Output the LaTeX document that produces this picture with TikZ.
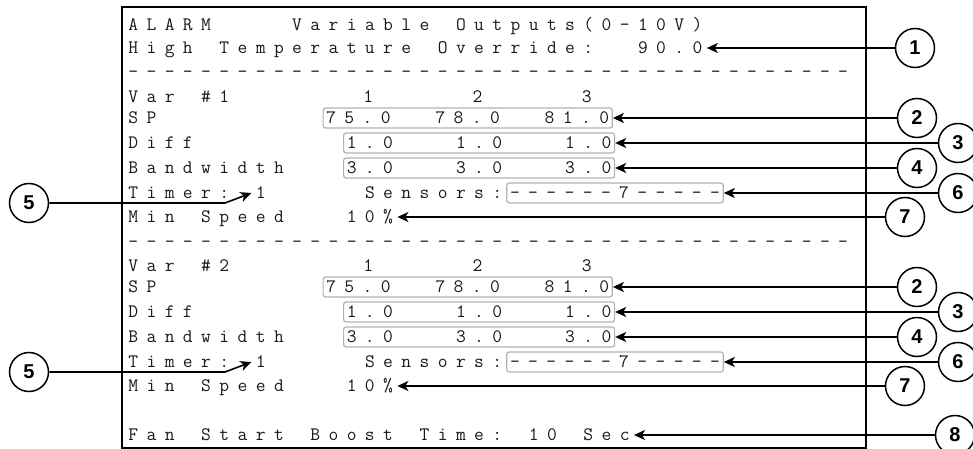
\documentclass[tikz,border=0pt]{standalone}
\usepackage{fontspec}
\usepackage{tikz}
\usetikzlibrary{positioning}
\usetikzlibrary{arrows.meta}
\newfontfamily\numfont{Liberation Sans}
\def\lcd#1{\lcdrun#1\relax}
\def\lcdrun#1{\ifx#1\relax\else\makebox[18.2pt][c]{#1}\expandafter\lcdrun\fi}
\tikzset{
lcdline/.style={anchor=west,inner sep=0pt,text height=11.6pt,text depth=0pt,text=black!90,font=\ttfamily\fontsize{19}{19}\selectfont},
valbox/.style={lcdline,draw=black!30,line width=1.2pt,rounded corners=2.5pt,inner xsep=-1pt,inner ysep=4.2pt},
callout/.style={circle,draw,line width=1.5pt,fill=white,minimum size=39pt,inner sep=0pt,font=\numfont\bfseries\fontsize{20}{20}\selectfont},
pointer/.style={line width=1.6pt,-{Stealth[length=11pt,width=10pt,inset=3pt]}}
}
\begin{document}
\begin{tikzpicture}[x=1pt,y=-1pt]
\useasboundingbox (0,0) rectangle (973,449);
\draw[line width=1.8pt] (122,7) rectangle (866,448);
\node[lcdline] (alarm) at (124,25) {\lcd{ALARM~~~~Variable~Outputs(0-10V)}};
\node[lcdline] (hto) at (124,48) {\lcd{High~Temperature~Override:}};
\node[lcdline] (hval) at (633.6,48) {\lcd{90.0}};
\foreach \y in {72,242} {
\node[lcdline] (dash\y) at (124,\y) {\lcd{----------------------------------------}};}
\node[lcdline] (fan) at (124,435) {\lcd{Fan~Start~Boost~Time:~10~Sec}};
\node[callout] (num1) at (915,48) {1};
\node[callout] (num8) at (955,435) {8};
\draw[pointer] (num1) -- (hval);
\draw[pointer] (num8) -- (fan);
\foreach \g/\dy in {1/0,2/169} {
\node[lcdline] (var\g) at (124,97+\dy) {\lcd{Var~\#\g}};
\node[lcdline] (cols\g) at (359,97+\dy) {\lcd{1~~~~~2~~~~~3}};
\node[lcdline] (sp\g) at (124,118+\dy) {\lcd{SP}};
\node[valbox] (spv\g) at (322.5,118+\dy) {\lcd{75.0~~78.0~~81.0}};
\node[lcdline] (diff\g) at (124,143+\dy) {\lcd{Diff}};
\node[valbox] (diffv\g) at (343,143+\dy) {\lcd{1.0~~~1.0~~~1.0}};
\node[lcdline] (bw\g) at (124,168+\dy) {\lcd{Bandwidth}};
\node[valbox] (bwv\g) at (343,168+\dy) {\lcd{3.0~~~3.0~~~3.0}};
\node[lcdline] (tmr\g) at (124,193+\dy) {\lcd{Timer:}};
\node[lcdline] (tmrv\g) at (251.4,193+\dy) {\lcd{1}};
\node[lcdline] (sens\g) at (360.6,193+\dy) {\lcd{Sensors:}};
\node[valbox] (sensv\g) at (506.2,193+\dy) {\lcd{------7-----}};
\node[lcdline] (ms\g) at (124,217+\dy) {\lcd{Min~Speed}};
\node[lcdline] (msv\g) at (342.4,217+\dy) {\lcd{10\%}};
\coordinate (bend\g) at (225,203+\dy);
\node[callout] (num2-\g) at (917,118+\dy) {2};
\node[callout] (num3-\g) at (958,143+\dy) {3};
\node[callout] (num4-\g) at (917,168+\dy) {4};
\node[callout] (num5-\g) at (29,203+\dy) {5};
\node[callout] (num6-\g) at (958,193+\dy) {6};
\node[callout] (num7-\g) at (905,217+\dy) {7};
\draw[pointer] (num2-\g) -- (spv\g);
\draw[pointer] (num3-\g) -- (diffv\g);
\draw[pointer] (num4-\g) -- (bwv\g);
\draw[pointer] (num5-\g) -- (bend\g) -- (tmrv\g.west);
\draw[pointer] (num6-\g) -- (sensv\g);
\draw[pointer] (num7-\g) -- (msv\g);
}
\end{tikzpicture}
\end{document}
